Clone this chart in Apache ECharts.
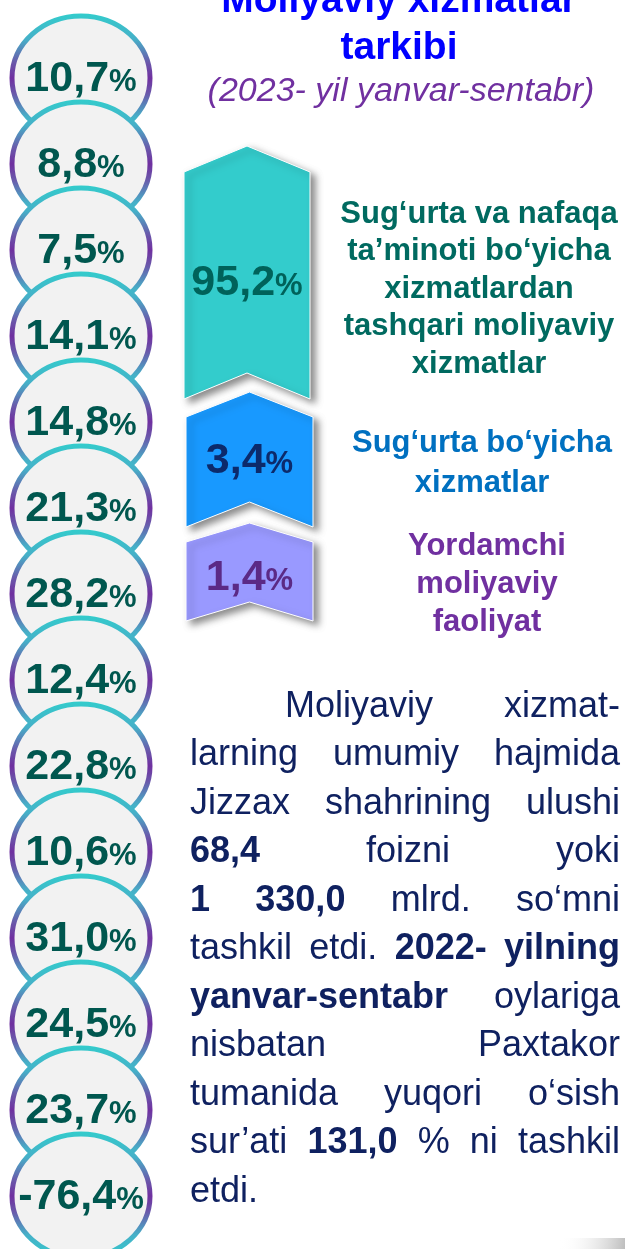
<!DOCTYPE html>
<html>
<head>
<meta charset="utf-8">
<script src="https://cdn.jsdelivr.net/npm/echarts@6/dist/echarts.min.js"></script>
<style>
  html, body { margin: 0; padding: 0; background: #fff; }
  #main { width: 625px; height: 1249px; }
</style>
</head>
<body>
<div id="main"></div>
<script>
// growth rates in the left column of circles, %
var circleValues = [10.7, 8.8, 7.5, 14.1, 14.8, 21.3, 28.2, 12.4, 22.8, 10.6, 31.0, 24.5, 23.7, -76.4];
// structure of financial services, %
var shareValues = [95.2, 3.4, 1.4];
var shareNames = [
    'Sug‘urta va nafaqa\nta’minoti bo‘yicha\nxizmatlardan\ntashqari moliyaviy\nxizmatlar',
    'Sug‘urta bo‘yicha\nxizmatlar',
    'Yordamchi\nmoliyaviy\nfaoliyat'
];
var titleText = 'Moliyaviy xizmatlar\ntarkibi';
var subtitleText = '(2023- yil yanvar-sentabr)';
// text block, *word* is bold
var paragraphLines = [
    'Moliyaviy xizmat-',
    'larning umumiy hajmida',
    'Jizzax shahrining ulushi',
    '*68,4* foizni yoki',
    '*1* *330,0* mlrd. so‘mni',
    'tashkil etdi. *2022-* *yilning*',
    '*yanvar-sentabr* oylariga',
    'nisbatan Paxtakor',
    'tumanida yuqori o‘sish',
    'sur’ati *131,0* % ni tashkil',
    'etdi.'
];

var FONT = '"Liberation Sans", Arial, sans-serif';
var chartDom = document.getElementById('main');
var myChart = echarts.init(chartDom);
var option;

function fmt(v) {
    return v.toFixed(1).replace('.', ',');
}

// chevron boxes (decorative, not proportional in the original)
var chevronBoxes = [
    { x0: 184, x1: 310, top: 146, bottom: 399, depth: 26, fill: '#33cccc', color: '#00625a', labelY: 282, nameX: 479, nameY: 289, nameColor: '#006a60', nameLH: 37.5 },
    { x0: 186, x1: 313, top: 392, bottom: 527, depth: 25, fill: '#1899ff', color: '#0c2a6b', labelY: 460, nameX: 482, nameY: 463, nameColor: '#0070c0', nameLH: 40 },
    { x0: 186, x1: 313, top: 523, bottom: 621, depth: 19, fill: '#9999ff', color: '#5b2a86', labelY: 577, nameX: 487, nameY: 584, nameColor: '#7030a0', nameLH: 38 }
];

var ringStroke = new echarts.graphic.LinearGradient(0, 0, 0, 1, [
    { offset: 0, color: '#33cccc' },
    { offset: 0.2, color: '#46b0c8' },
    { offset: 0.38, color: '#6a58aa' },
    { offset: 0.5, color: '#7030a0' },
    { offset: 0.62, color: '#6a58aa' },
    { offset: 0.8, color: '#46b0c8' },
    { offset: 1, color: '#33cccc' }
]);

// justified paragraph
var ctx = document.createElement('canvas').getContext('2d');
function textWidth(s, bold) {
    ctx.font = (bold ? 'bold ' : '') + '36px ' + FONT;
    return ctx.measureText(s).width;
}
var paraGraphics = [];
paragraphLines.forEach(function (line, i) {
    var words = line.split(' ').map(function (w) {
        var b = w.charAt(0) === '*';
        return { t: b ? w.slice(1, -1) : w, b: b };
    });
    var x0 = i === 0 ? 285 : 190;
    var widths = words.map(function (w) { return textWidth(w.t, w.b); });
    var total = widths.reduce(function (a, b) { return a + b; }, 0);
    var last = i === paragraphLines.length - 1;
    var gap = (last || words.length < 2) ? textWidth(' ') : (620 - x0 - total) / (words.length - 1);
    var x = x0;
    words.forEach(function (w, j) {
        paraGraphics.push({
            type: 'text',
            x: x,
            y: 707 + 48.5 * i,
            silent: true,
            style: {
                text: w.t,
                font: (w.b ? 'bold ' : '') + '36px ' + FONT,
                fill: '#0f2160',
                align: 'left',
                verticalAlign: 'middle'
            }
        });
        x += widths[j] + gap;
    });
});

option = {
    backgroundColor: '#ffffff',
    animation: false,
    grid: { left: 11, width: 140, top: 35, height: 1204 },
    xAxis: { type: 'value', min: -1, max: 1, show: false },
    yAxis: {
        type: 'category',
        inverse: true,
        show: false,
        data: circleValues.map(fmt)
    },
    series: [
        {
            type: 'custom',
            clip: false,
            data: circleValues.map(function (v, i) { return [0, i, v]; }),
            renderItem: function (params, api) {
                var pt = api.coord([0, api.value(1)]);
                return {
                    type: 'group',
                    children: [
                        {
                            type: 'ellipse',
                            shape: { cx: pt[0], cy: pt[1], rx: 69, ry: 62 },
                            style: { fill: '#f2f2f2', stroke: ringStroke, lineWidth: 5 }
                        },
                        {
                            type: 'text',
                            x: pt[0],
                            y: pt[1],
                            style: {
                                text: '{n|' + fmt(api.value(2)) + '}{p|%}',
                                align: 'center',
                                verticalAlign: 'middle',
                                rich: {
                                    n: { font: 'bold 43px ' + FONT, fill: '#00574f', verticalAlign: 'bottom', lineHeight: 46 },
                                    p: { font: 'bold 31px ' + FONT, fill: '#00574f', verticalAlign: 'bottom', lineHeight: 46, padding: [0, 0, 3, 0] }
                                }
                            }
                        }
                    ]
                };
            }
        },
        {
            type: 'custom',
            coordinateSystem: 'none',
            data: shareValues,
            renderItem: function (params, api) {
                var b = chevronBoxes[params.dataIndex];
                var xc = (b.x0 + b.x1) / 2;
                return {
                    type: 'group',
                    children: [
                        {
                            type: 'polygon',
                            shape: {
                                points: [
                                    [b.x0, b.top + b.depth], [xc, b.top], [b.x1, b.top + b.depth],
                                    [b.x1, b.bottom], [xc, b.bottom - b.depth], [b.x0, b.bottom]
                                ]
                            },
                            style: {
                                fill: b.fill,
                                stroke: '#ffffff',
                                lineWidth: 1,
                                shadowBlur: 7,
                                shadowOffsetX: 5,
                                shadowOffsetY: 4,
                                shadowColor: 'rgba(0,0,0,0.45)'
                            }
                        },
                        {
                            type: 'text',
                            x: xc,
                            y: b.labelY,
                            style: {
                                text: '{n|' + fmt(api.value(0)) + '}{p|%}',
                                align: 'center',
                                verticalAlign: 'middle',
                                rich: {
                                    n: { font: 'bold 43px ' + FONT, fill: b.color, verticalAlign: 'bottom', lineHeight: 46 },
                                    p: { font: 'bold 31px ' + FONT, fill: b.color, verticalAlign: 'bottom', lineHeight: 46, padding: [0, 0, 3, 0] }
                                }
                            }
                        },
                        {
                            type: 'text',
                            x: b.nameX,
                            y: b.nameY,
                            style: {
                                text: shareNames[params.dataIndex],
                                font: 'bold 31px ' + FONT,
                                fill: b.nameColor,
                                align: 'center',
                                verticalAlign: 'middle',
                                lineHeight: b.nameLH
                            }
                        }
                    ]
                };
            }
        }
    ],
    graphic: [
        {
            type: 'text',
            x: 399,
            y: 25,
            silent: true,
            style: {
                text: titleText,
                font: 'bold 39px ' + FONT,
                fill: '#0000ff',
                align: 'center',
                verticalAlign: 'middle',
                lineHeight: 47
            }
        },
        {
            type: 'text',
            x: 401,
            y: 92,
            silent: true,
            style: {
                text: subtitleText,
                font: 'italic 34px ' + FONT,
                fill: '#7030a0',
                align: 'center',
                verticalAlign: 'middle'
            }
        },
        {
            type: 'rect',
            silent: true,
            shape: { x: 560, y: 1238, width: 65, height: 11 },
            style: {
                fill: new echarts.graphic.LinearGradient(0, 0, 1, 1, [
                    { offset: 0, color: 'rgba(255,255,255,0)' },
                    { offset: 1, color: '#bdbdbd' }
                ])
            }
        }
    ].concat(paraGraphics)
};

option && myChart.setOption(option);
</script>
</body>
</html>
